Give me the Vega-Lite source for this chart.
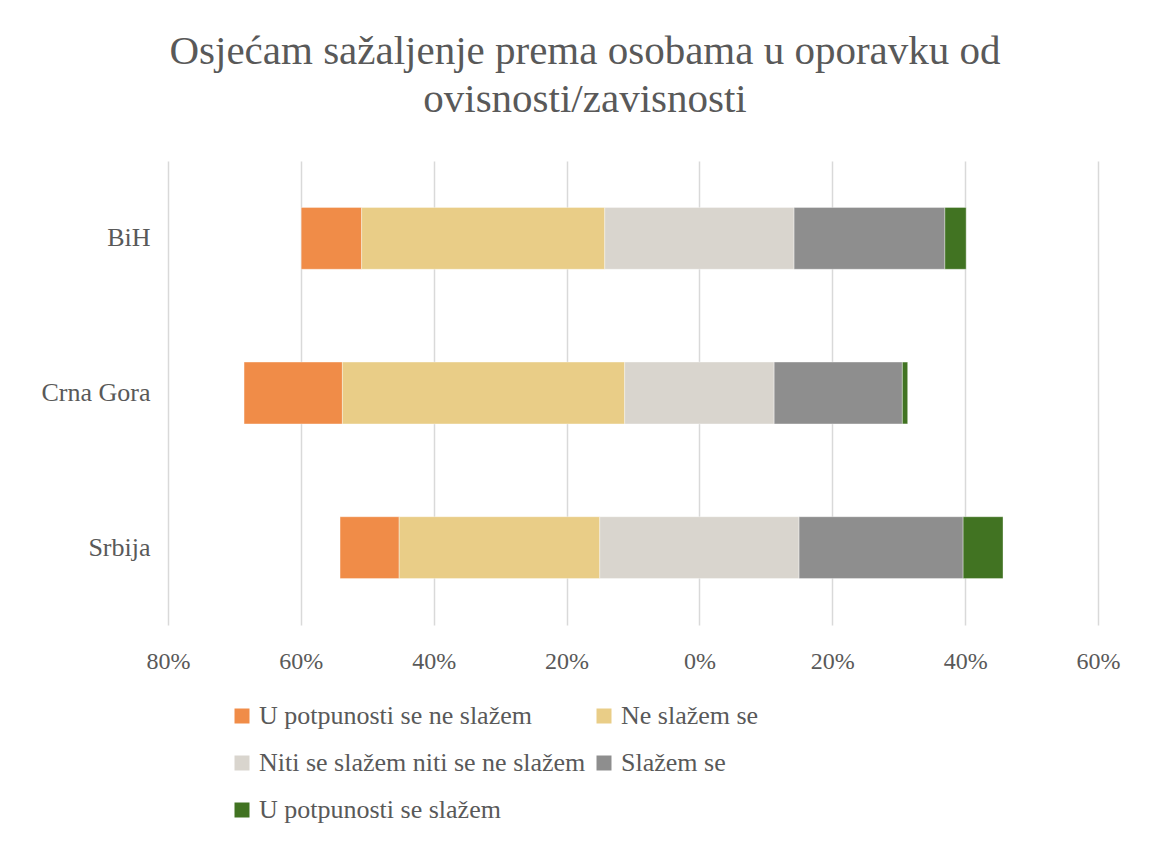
{
  "$schema": "https://vega.github.io/schema/vega-lite/v6.json",
  "width": 930,
  "height": 464,
  "autosize": {"type": "none"},
  "padding": {"left": 168, "top": 161, "right": 55, "bottom": 218},
  "background": "#ffffff",
  "title": {
    "text": ["Osjećam sažaljenje prema osobama u oporavku od", "ovisnosti/zavisnosti"],
    "font": "Liberation Serif",
    "fontSize": 41,
    "fontWeight": "normal",
    "color": "#595959",
    "lineHeight": 48,
    "anchor": "middle",
    "dx": -48,
    "offset": 40
  },
  "data": {
    "values": [
      {"country": "BiH", "type": "U potpunosti se ne slažem", "value": 9.1},
      {"country": "BiH", "type": "Ne slažem se", "value": 36.6},
      {"country": "BiH", "type": "Niti se slažem niti se ne slažem", "value": 28.5},
      {"country": "BiH", "type": "Slažem se", "value": 22.7},
      {"country": "BiH", "type": "U potpunosti se slažem", "value": 3.2},
      {"country": "Crna Gora", "type": "U potpunosti se ne slažem", "value": 14.8},
      {"country": "Crna Gora", "type": "Ne slažem se", "value": 42.5},
      {"country": "Crna Gora", "type": "Niti se slažem niti se ne slažem", "value": 22.5},
      {"country": "Crna Gora", "type": "Slažem se", "value": 19.3},
      {"country": "Crna Gora", "type": "U potpunosti se slažem", "value": 0.8},
      {"country": "Srbija", "type": "U potpunosti se ne slažem", "value": 8.9},
      {"country": "Srbija", "type": "Ne slažem se", "value": 30.2},
      {"country": "Srbija", "type": "Niti se slažem niti se ne slažem", "value": 30.0},
      {"country": "Srbija", "type": "Slažem se", "value": 24.7},
      {"country": "Srbija", "type": "U potpunosti se slažem", "value": 6.0}
    ]
  },
  "transform": [
    {"calculate": "indexof(['U potpunosti se ne slažem','Ne slažem se','Niti se slažem niti se ne slažem','Slažem se','U potpunosti se slažem'], datum.type)", "as": "ord"},
    {"calculate": "datum.ord < 2 ? datum.value : (datum.ord == 2 ? datum.value / 2 : 0)", "as": "neg"},
    {"stack": "value", "groupby": ["country"], "sort": [{"field": "ord", "order": "ascending"}], "as": ["v1", "v2"]},
    {"joinaggregate": [{"op": "sum", "field": "neg", "as": "offset"}], "groupby": ["country"]},
    {"calculate": "datum.v1 - datum.offset", "as": "x1"},
    {"calculate": "datum.v2 - datum.offset", "as": "x2"}
  ],
  "mark": {"type": "bar", "stroke": "#ffffff", "strokeWidth": 0.6, "strokeOpacity": 0.6},
  "encoding": {
    "y": {
      "field": "country",
      "type": "nominal",
      "sort": ["BiH", "Crna Gora", "Srbija"],
      "title": null,
      "scale": {"paddingInner": 0.6, "paddingOuter": 0.3},
      "axis": {
        "domain": false,
        "ticks": false,
        "grid": false,
        "labelFont": "Liberation Serif",
        "labelFontSize": 26,
        "labelColor": "#595959",
        "labelPadding": 18
      }
    },
    "x": {
      "field": "x1",
      "type": "quantitative",
      "title": null,
      "scale": {"domain": [-80, 60], "nice": false, "zero": false},
      "axis": {
        "values": [-80, -60, -40, -20, 0, 20, 40, 60],
        "labelExpr": "abs(datum.value) + '%'",
        "labelFlush": false,
        "domain": false,
        "ticks": false,
        "grid": true,
        "gridColor": "#d9d9d9",
        "gridWidth": 1.5,
        "labelFont": "Liberation Serif",
        "labelFontSize": 24,
        "labelColor": "#595959",
        "labelPadding": 24
      }
    },
    "x2": {"field": "x2"},
    "color": {
      "field": "type",
      "type": "nominal",
      "title": null,
      "scale": {
        "domain": ["U potpunosti se ne slažem", "Ne slažem se", "Niti se slažem niti se ne slažem", "Slažem se", "U potpunosti se slažem"],
        "range": ["#F08C48", "#E9CD87", "#D9D5CE", "#8E8E8E", "#417322"]
      },
      "legend": {
        "orient": "none",
        "legendX": 61,
        "legendY": 542,
        "direction": "horizontal",
        "columns": 2,
        "columnPadding": 5,
        "rowPadding": 21,
        "symbolType": "square",
        "symbolSize": 225,
        "symbolStrokeWidth": 0,
        "labelFont": "Liberation Serif",
        "labelFontSize": 26,
        "labelColor": "#595959",
        "labelOffset": 4,
        "labelLimit": 500
      }
    }
  },
  "config": {
    "font": "Liberation Serif",
    "view": {"stroke": null}
  }
}
